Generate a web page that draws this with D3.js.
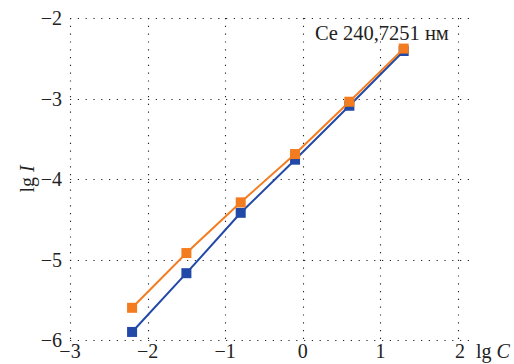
<!DOCTYPE html>
<html><head><meta charset="utf-8">
<script src="https://cdn.jsdelivr.net/npm/d3@7"></script>
<style>body{margin:0;background:#fff}svg{display:block}
svg text{font-family:"Liberation Serif","Times New Roman",Times,serif;fill:#222}</style>
</head><body>
<script>
const lgC = [-2.2, -1.5, -0.8, -0.1, 0.6, 1.3];
const seriesBlue = [-5.9, -5.17, -4.42, -3.76, -3.09, -2.41];
const seriesOrange = [-5.6, -4.92, -4.29, -3.69, -3.04, -2.38];
const xTicks = [-3, -2, -1, 0, 1, 2];
const yTicks = [-6, -5, -4, -3, -2];
const label = "Ce 240,7251 нм";

const W = 514, H = 364;
const svg = d3.select("body").append("svg").attr("width", W).attr("height", H);
const x = d3.scaleLinear().domain([-3, 2]).range([70, 458]);
const y = d3.scaleLinear().domain([-6, -2]).range([340, 18]);
const xRight = 475;

// grid
const g = svg.append("g");
g.selectAll(".hg").data(yTicks).join("line")
  .attr("x1", x(-3)).attr("x2", xRight)
  .attr("y1", d => Math.round(y(d)) + 0.5).attr("y2", d => Math.round(y(d)) + 0.5)
  .attr("stroke", "#222").attr("stroke-width", 1.1).attr("stroke-dasharray", "1.2,6.6");
g.selectAll(".vg").data(xTicks).join("line")
  .attr("x1", d => Math.round(x(d)) + 0.5).attr("x2", d => Math.round(x(d)) + 0.5)
  .attr("y1", y(-2)).attr("y2", y(-6))
  .attr("stroke", "#222").attr("stroke-width", 1.1).attr("stroke-dasharray", "1.2,6.6");

// tick labels
const fmt = d => d < 0 ? "\u2212" + Math.abs(d) : String(d);
svg.selectAll(".yl").data(yTicks).join("text")
  .attr("x", 62).attr("y", d => y(d) + 7)
  .attr("text-anchor", "end").style("font-size", "20px").text(fmt);
svg.selectAll(".xl").data(xTicks).join("text")
  .attr("x", d => x(d) + (d === 2 ? 2 : 0)).attr("y", 358)
  .attr("text-anchor", "middle").style("font-size", "20px").text(fmt);

// axis titles
const xt = svg.append("text").attr("x", 476).attr("y", 358).style("font-size", "20px");
xt.append("tspan").text("lg ");
xt.append("tspan").attr("font-style", "italic").text("C");
const yt = svg.append("text").attr("transform", "translate(34,179) rotate(-90)")
  .attr("text-anchor", "middle").style("font-size", "20px");
yt.append("tspan").text("lg ");
yt.append("tspan").attr("font-style", "italic").text("I");

// series
const line = d3.line().x(d => x(d[0])).y(d => y(d[1]));
const series = [
  {vals: seriesBlue, color: "#2249a7"},
  {vals: seriesOrange, color: "#f47c20"}
];
series.forEach(s => {
  const pts = lgC.map((c, i) => [c, s.vals[i]]);
  svg.append("path").datum(pts).attr("d", line)
    .attr("fill", "none").attr("stroke", s.color).attr("stroke-width", 2);
  svg.selectAll(null).data(pts).join("rect")
    .attr("x", d => x(d[0]) - 5).attr("y", d => y(d[1]) - 5)
    .attr("width", 10).attr("height", 10).attr("fill", s.color);
});

// annotation
svg.append("text").attr("x", 315).attr("y", 40).style("font-size", "20.5px").text(label);
</script>
</body></html>
